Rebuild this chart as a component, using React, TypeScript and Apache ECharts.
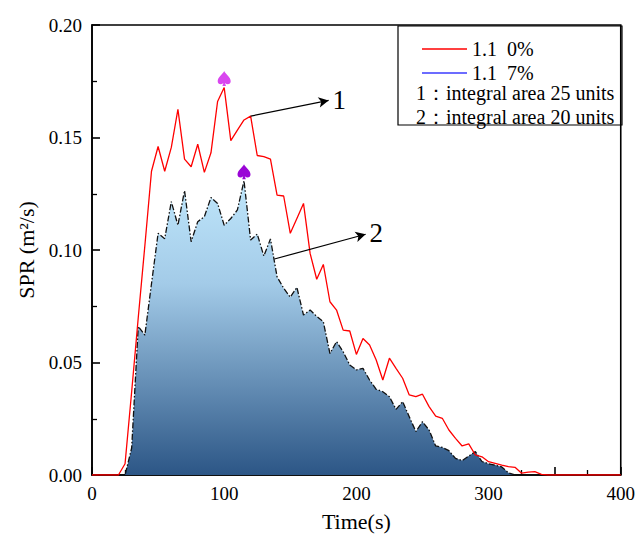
import React, { useEffect, useRef } from 'react';
import * as echarts from 'echarts';

// time axis (s), step 5
const times: number[] = Array.from({ length: 81 }, (_, i) => i * 5);

// 1.1 0% (red)
const red: number[] = [
  0, 0, 0, 0, 0, 0.005, 0.037, 0.07, 0.102, 0.135,
  0.146, 0.135, 0.1456, 0.1625, 0.1404, 0.137, 0.147, 0.1345, 0.1432, 0.166,
  0.1722, 0.1486, 0.1533, 0.1578, 0.1595, 0.142, 0.1415, 0.1404, 0.1244, 0.124,
  0.1074, 0.114, 0.1207, 0.0985, 0.087, 0.0936, 0.077, 0.0733, 0.0644, 0.064,
  0.0536, 0.0607, 0.0578, 0.0511, 0.0422, 0.0519, 0.0474, 0.043, 0.0356, 0.0348,
  0.0359, 0.0304, 0.0262, 0.0252, 0.02, 0.0163, 0.0129, 0.0138, 0.0089, 0.0081,
  0.0059, 0.0052, 0.0044, 0.0037, 0.0034, 0.0008, 0.0013, 0.0015, 0.0003, 0,
  0, 0, 0, 0, 0, 0, 0, 0, 0, 0, 0,
];

// 1.1 7% (area)
const blue: number[] = [
  0, 0, 0, 0, 0, 0, 0.012, 0.066, 0.0622, 0.085,
  0.1074, 0.105, 0.1215, 0.111, 0.1264, 0.1037, 0.1126, 0.1148, 0.1233, 0.1207,
  0.111, 0.114, 0.1178, 0.1308, 0.1044, 0.1071, 0.0973, 0.1049, 0.0881, 0.083,
  0.079, 0.0834, 0.0711, 0.0733, 0.0705, 0.0681, 0.054, 0.0593, 0.0548, 0.0489,
  0.0467, 0.0474, 0.0422, 0.0381, 0.037, 0.0348, 0.0292, 0.0326, 0.0259, 0.0193,
  0.0237, 0.02, 0.0129, 0.0123, 0.0108, 0.0074, 0.0064, 0.0084, 0.0104, 0.006,
  0.005, 0.0044, 0.0036, 0.001, 0, 0, 0, 0, 0, 0,
  0, 0, 0, 0, 0, 0, 0, 0, 0, 0, 0,
];

const seriesNames = ['1.1\u00a0\u00a00%', '1.1\u00a0\u00a07%'];
const noteLines = ['1：integral area 25 units', '2：integral area 20 units'];
const xTicks = [0, 100, 200, 300, 400];

const SPADE =
  'path://M50,0 C40,20 0,40 0,68 C0,88 25,96 44,80 L36,100 L64,100 L56,80 C75,96 100,88 100,68 C100,40 60,20 50,0 Z';

const FONT = 'Liberation Serif, Times New Roman, serif';

export default function App() {
  const ref = useRef<HTMLDivElement>(null);
  useEffect(() => {
    if (!ref.current) return;
    document.body.style.margin = '0';
    const chart = echarts.init(ref.current, undefined, { renderer: 'svg' });
    const redData = times.map((t, i) => [t, red[i]]);
    const blueData = times.map((t, i) => [t, blue[i]]);
    const redPeak = redData.reduce((a, b) => (b[1] > a[1] ? b : a));
    const bluePeak = blueData.reduce((a, b) => (b[1] > a[1] ? b : a));

    chart.setOption({
      animation: false,
      textStyle: { fontFamily: FONT },
      grid: {
        left: 92,
        right: 15,
        top: 25,
        bottom: 63,
        show: true,
        borderColor: '#000',
        borderWidth: 1.6,
        backgroundColor: 'transparent',
      },
      legend: {
        orient: 'vertical',
        left: 417,
        top: 34,
        icon: 'rect',
        itemWidth: 45,
        itemHeight: 1.5,
        itemGap: 4,
        textStyle: { fontFamily: FONT, fontSize: 20, color: '#000', lineHeight: 20 },
        data: [
          { name: seriesNames[0], itemStyle: { color: '#ff0000' } },
          { name: seriesNames[1], itemStyle: { color: '#3b3bff' } },
        ],
      },
      xAxis: {
        type: 'value',
        min: 0,
        max: 400,
        interval: 50,
        name: 'Time(s)',
        nameLocation: 'middle',
        nameGap: 35,
        nameTextStyle: { fontFamily: FONT, fontSize: 22, color: '#000' },
        axisLine: { show: true, lineStyle: { color: '#000', width: 1.6 } },
        axisTick: { show: true, inside: true, length: 8, lineStyle: { color: '#000', width: 1.6 } },
        minorTick: { show: true, splitNumber: 2, length: 5, lineStyle: { color: '#000', width: 1.3 } },
        splitLine: { show: false },
        axisLabel: {
          fontFamily: FONT,
          fontSize: 19,
          color: '#000',
          margin: 9,
          formatter: (v: number) => (xTicks.includes(v) ? String(v) : ''),
        },
      },
      yAxis: {
        type: 'value',
        min: 0,
        max: 0.2,
        interval: 0.05,
        name: 'SPR (m²/s)',
        nameLocation: 'middle',
        nameGap: 52,
        nameTextStyle: { fontFamily: FONT, fontSize: 22, color: '#000' },
        axisLine: { show: true, lineStyle: { color: '#000', width: 1.6 } },
        axisTick: { show: true, inside: true, length: 8, lineStyle: { color: '#000', width: 1.6 } },
        minorTick: { show: true, splitNumber: 2, length: 5, lineStyle: { color: '#000', width: 1.3 } },
        splitLine: { show: false },
        axisLabel: {
          fontFamily: FONT,
          fontSize: 19,
          color: '#000',
          margin: 10,
          formatter: (v: number) => v.toFixed(2),
        },
      },
      series: [
        {
          name: seriesNames[1],
          type: 'line',
          data: blueData,
          symbol: 'none',
          z: 2,
          itemStyle: { color: '#3b3bff' },
          lineStyle: { color: '#111', width: 1.3, type: [6, 2, 1.5, 2] },
          areaStyle: {
            opacity: 1,
            color: new echarts.graphic.LinearGradient(0, 0, 0, 1, [
              { offset: 0, color: '#bfe6fb' },
              { offset: 0.35, color: '#a3cbe8' },
              { offset: 1, color: '#2c5686' },
            ]),
          },
          markPoint: {
            symbol: SPADE,
            symbolSize: [13, 15],
            symbolOffset: [0, -9],
            label: { show: false },
            itemStyle: { color: '#9a05d6' },
            data: [{ coord: bluePeak }],
          },
          markLine: {
            silent: true,
            symbol: ['none', 'arrow'],
            symbolSize: [8, 10],
            lineStyle: { color: '#000', width: 1.2, type: 'solid' },
            label: {
              show: true,
              position: 'end',
              formatter: '2',
              fontFamily: FONT,
              fontSize: 27,
              color: '#000',
              distance: 4,
            },
            data: [[{ coord: [138, 0.096] }, { coord: [207, 0.107] }]],
          },
        },
        {
          name: seriesNames[0],
          type: 'line',
          data: redData,
          symbol: 'none',
          z: 3,
          itemStyle: { color: '#ff0000' },
          lineStyle: { color: '#ff0000', width: 1.3 },
          markPoint: {
            symbol: SPADE,
            symbolSize: [13, 15],
            symbolOffset: [0, -9],
            label: { show: false },
            itemStyle: { color: '#d946ef' },
            data: [{ coord: redPeak }],
          },
          markLine: {
            silent: true,
            symbol: ['none', 'arrow'],
            symbolSize: [8, 10],
            lineStyle: { color: '#000', width: 1.2, type: 'solid' },
            label: {
              show: true,
              position: 'end',
              formatter: '1',
              fontFamily: FONT,
              fontSize: 27,
              color: '#000',
              distance: 4,
            },
            data: [[{ coord: [120, 0.1595] }, { coord: [179, 0.1665] }]],
          },
        },
      ],
      graphic: [
        {
          type: 'rect',
          z: 10,
          shape: { x: 398, y: 26, width: 224, height: 99 },
          style: { fill: 'none', stroke: '#000', lineWidth: 1.2 },
        },
        {
          type: 'text',
          z: 10,
          left: 416,
          top: 83,
          style: { text: noteLines[0], font: `20px ${FONT}`, fill: '#000' },
        },
        {
          type: 'text',
          z: 10,
          left: 416,
          top: 107,
          style: { text: noteLines[1], font: `20px ${FONT}`, fill: '#000' },
        },
      ],
    });
    return () => chart.dispose();
  }, []);
  return <div ref={ref} style={{ width: 638, height: 538 }} />;
}
